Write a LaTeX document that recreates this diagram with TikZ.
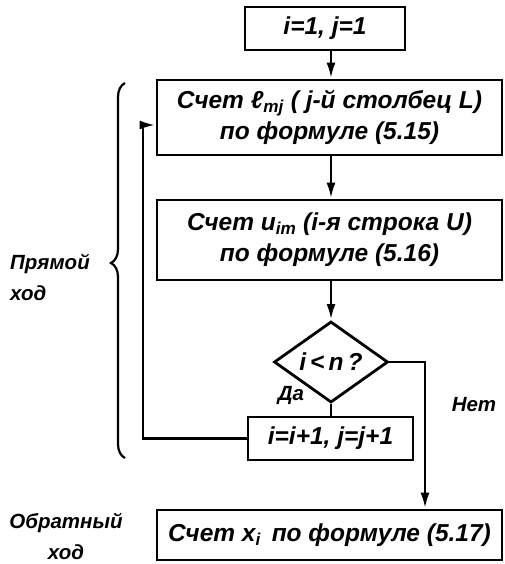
\documentclass[tikz,border=0pt]{standalone}
\usepackage{fontspec}
\setmainfont{Liberation Sans}
\usetikzlibrary{arrows.meta,shapes.geometric,decorations.pathreplacing}

\begin{document}
\begin{tikzpicture}[
  x=1pt, y=-1pt,
  font=\fontsize{24.5}{31}\selectfont\bfseries\itshape,
  line width=2.8pt,
  box/.style={draw, align=center, inner sep=0pt, minimum width=345pt},
  cond/.style={draw, diamond, inner sep=0pt, minimum width=114pt, minimum height=70pt},
  arrow/.style={-{Latex[length=16pt,width=9pt]}},
  lbl/.style={inner sep=0pt, align=center, font=\fontsize{20.5}{31}\selectfont\bfseries\itshape}
]
\useasboundingbox (0,0) rectangle (504,564);

\node[box, minimum width=160pt, minimum height=43pt] (init) at (325,28.5) {i=1, j=1};
\node[box, minimum height=75pt] (lcol) at (329.5,117.5) {Счет ℓ\textsubscript{mj} ( j-й столбец L)\\по формуле (5.15)};
\node[box, minimum height=80pt] (urow) at (329.5,240) {Счет u\textsubscript{im} (i-я строка U)\\по формуле (5.16)};
\node[cond] (test) at (331,362) {i\,<\,n\,?};
\node[box, minimum width=165pt, minimum height=43pt] (incr) at (330.5,438.5) {i=i+1, j=j+1};
\node[box, minimum height=50pt] (back) at (329.5,535) {Счет x\textsubscript{i}\, по формуле (5.17)};

\coordinate (nocol) at (425,0);
\coordinate (ret) at (143,125);

\draw[arrow] (init.south -| test) -- (lcol.north -| test);
\draw[arrow] (lcol.south -| test) -- (urow.north -| test);
\draw[arrow] (urow.south -| test) -- (test.north);
\draw (test.south) -- (incr.north -| test);
\draw[arrow] (test.east) -| (nocol |- back.north);
\draw[arrow] (incr.west) -| (ret) -- (ret -| lcol.west);

\node[lbl] (yes) at (291,395) {Да};
\node[lbl] (no) at (474,405) {Нет};
\node[lbl, align=left] (fwd) at (50,277) {Прямой\\ход};
\node[lbl] (bwd) at (66,536) {Обратный\\ход};

\draw[line width=2.2pt, decorate, decoration={brace, amplitude=14pt, aspect=0.52}] (125,458) -- (125,83);

\end{tikzpicture}
\end{document}
